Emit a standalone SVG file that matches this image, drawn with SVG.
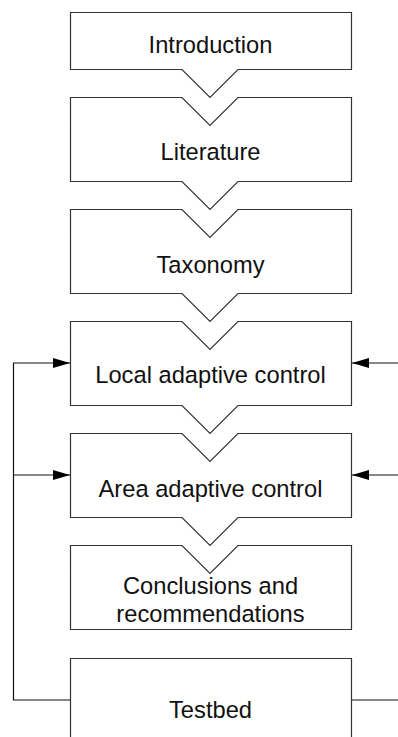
<svg xmlns="http://www.w3.org/2000/svg" width="398" height="737" viewBox="0 0 398 737">
  <style>
    .box { fill: #ffffff; stroke: #333333; stroke-width: 1.2; }
    .label { font-family: "Liberation Sans", Arial, sans-serif; font-size: 23.7px; fill: #111111; text-anchor: middle; }
    .wire { fill: none; stroke: #111111; stroke-width: 1.2; }
  </style>
  <defs>
    <marker id="arrow" viewBox="0 0 17 10" refX="17" refY="5" markerWidth="17" markerHeight="10" markerUnits="userSpaceOnUse" orient="auto">
      <path d="M0,0 L17,5 L0,10 Z" fill="#000000"/>
    </marker>
  </defs>
  <rect width="398" height="737" fill="#ffffff"/>

  <g id="connectors">
    <!-- feedback loop on the left: from Testbed up to both control stages -->
    <path class="wire" d="M70,700 H13.5 V363 H70" marker-end="url(#arrow)"/>
    <path class="wire" d="M13.5,475 H70" marker-end="url(#arrow)"/>
    <!-- external inputs on the right -->
    <path class="wire" d="M398,363 H352" marker-end="url(#arrow)"/>
    <path class="wire" d="M398,475 H352" marker-end="url(#arrow)"/>
    <path class="wire" d="M351,700 H398"/>
  </g>

  <g id="introduction">
    <path class="box" d="M70.5,12.5 H351.5 V69.5 H238 L210,97.5 L182,69.5 H70.5 Z"/>
    <text class="label" x="210.5" y="53">Introduction</text>
  </g>
  <g id="literature">
    <path class="box" d="M70.5,97.5 H182 L210,125.5 L238,97.5 H351.5 V181.5 H238 L210,209.5 L182,181.5 H70.5 Z"/>
    <text class="label" x="210.5" y="160">Literature</text>
  </g>
  <g id="taxonomy">
    <path class="box" d="M70.5,209.5 H182 L210,237.5 L238,209.5 H351.5 V293.5 H238 L210,321.5 L182,293.5 H70.5 Z"/>
    <text class="label" x="210.5" y="273">Taxonomy</text>
  </g>
  <g id="local-adaptive-control">
    <path class="box" d="M70.5,321.5 H182 L210,349.5 L238,321.5 H351.5 V405.5 H238 L210,433.5 L182,405.5 H70.5 Z"/>
    <text class="label" x="210.5" y="383">Local adaptive control</text>
  </g>
  <g id="area-adaptive-control">
    <path class="box" d="M70.5,433.5 H182 L210,461.5 L238,433.5 H351.5 V517.5 H238 L210,545.5 L182,517.5 H70.5 Z"/>
    <text class="label" x="210.5" y="497">Area adaptive control</text>
  </g>
  <g id="conclusions">
    <path class="box" d="M70.5,545.5 H182 L210,573.5 L238,545.5 H351.5 V629.5 H70.5 Z"/>
    <text class="label" x="210.5" y="594">Conclusions and</text>
    <text class="label" x="210.5" y="622">recommendations</text>
  </g>
  <g id="testbed">
    <path class="box" d="M70.5,745 V658.5 H351.5 V745"/>
    <text class="label" x="210.5" y="718">Testbed</text>
  </g>
</svg>
